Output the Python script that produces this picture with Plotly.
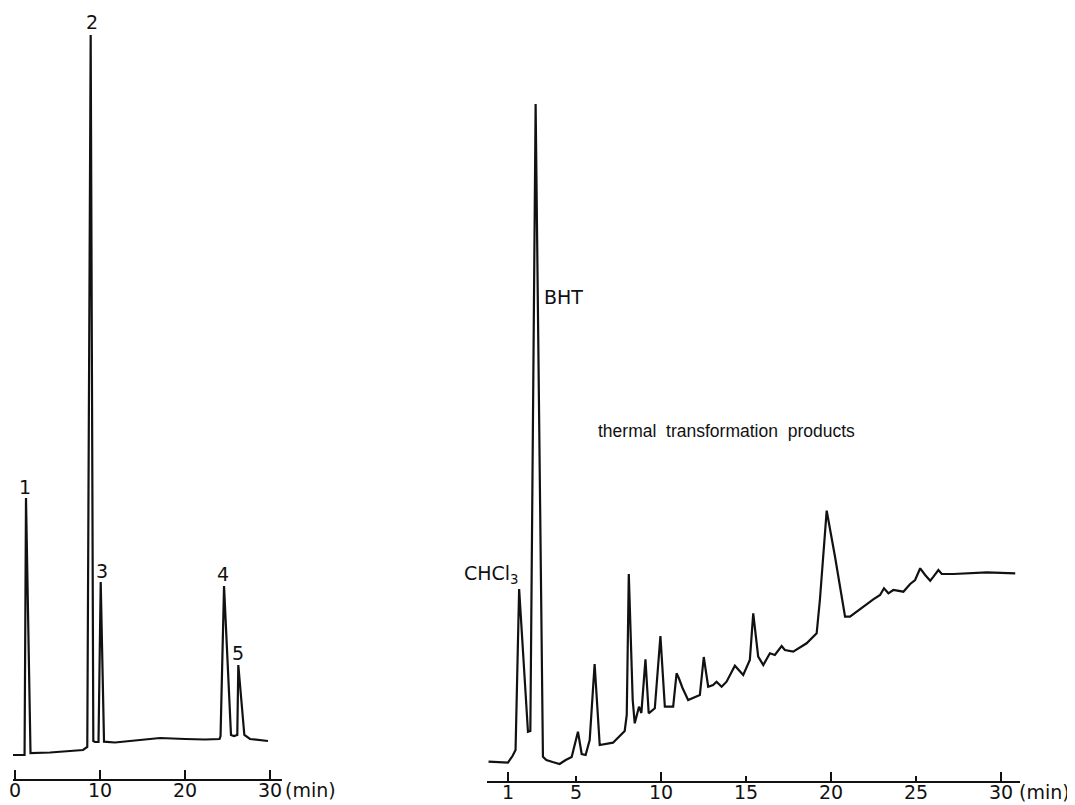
import plotly.graph_objects as go

# ---- Left chromatogram (standard mixture, peaks 1-5) ----
left_time = [-0.18, 1.18, 1.35, 1.88, 4.18, 8.06, 8.56, 8.96, 9.27, 9.47, 9.88, 10.14, 10.53,
             11.82, 14.76, 17.12, 20.06, 22.41, 24.12, 24.24, 24.65, 25.47, 25.82, 26.21,
             26.33, 27.04, 27.71, 29.82]
left_signal = [24, 24, 281, 26, 26.5, 29, 32, 744, 38, 37, 37, 197, 37.3,
               36.5, 39, 41, 40, 39.5, 40, 43, 193, 44, 43, 44,
               114, 44, 40, 38]
left_ticks = [0, 10, 20, 30]

# ---- Right chromatogram (sample with BHT) ----
right_time = [-0.16, 0.98, 1.25, 1.43, 1.64, 2.16, 2.30, 2.61, 3.04, 3.24, 3.61, 4.02, 4.38,
              4.73, 5.10, 5.32, 5.55, 5.79, 6.08, 6.38, 7.16, 7.56, 7.85, 7.97, 8.09,
              8.32, 8.44, 8.69, 8.83, 9.07, 9.26, 9.62, 9.95, 10.21, 10.70, 10.90, 11.03,
              11.25, 11.58, 12.27, 12.50, 12.76, 13.05, 13.25, 13.55, 13.84, 14.33, 14.82,
              15.21, 15.41, 15.70, 16.00, 16.39, 16.68, 17.08, 17.27, 17.76, 18.55, 19.14,
              19.33, 19.63, 19.73, 20.22, 20.41, 20.81, 21.10, 21.88, 22.47, 22.87, 23.10,
              23.36, 23.65, 24.24, 24.64, 24.93, 25.23, 25.52, 25.82, 26.01, 26.30, 26.50,
              27.19, 29.15, 30.82]
right_signal = [19.3, 18.3, 25, 31, 192, 49.3, 50, 677, 24.3, 21, 19, 17, 21,
                24, 49.3, 27, 26, 41, 117, 36, 38.3, 45, 50, 66, 207,
                81, 57.7, 74.3, 68, 121.7, 67.7, 72.7, 145, 74.3, 74.3, 107.7, 103,
                93, 81, 86, 124, 94.3, 96, 99.3, 94.3, 99.3, 115.3, 106,
                121, 167.7, 124.3, 116, 127.7, 126, 135, 131, 129.3, 137.7, 147.7,
                181, 251, 270.3, 224.3, 204.3, 164.3, 164.3, 174.3, 181.7, 186, 192.7,
                187.7, 191, 189.3, 197, 201, 212.7, 206, 200.3, 204.3, 211, 207,
                207, 208.7, 207.7]
right_ticks = [1, 5, 10, 15, 20, 25, 30]
right_long_ticks = [1, 10, 20, 30]

INK = "#111111"
FONT = "DejaVu Sans"
FS = 19

# the page body has an 8 px margin, so the figure is drawn 8 px in from the top-left
OFF = 8
W, H = 1075 - OFF, 805 - OFF


def fx(x):
    return (x - OFF) / W


def fy(y):
    return 1 - (y - OFF) / H


fig = go.Figure()
fig.add_trace(go.Scatter(x=left_time, y=left_signal, mode="lines",
                         line=dict(color=INK, width=2.2), xaxis="x", yaxis="y",
                         hoverinfo="skip", showlegend=False))
fig.add_trace(go.Scatter(x=right_time, y=right_signal, mode="lines",
                         line=dict(color=INK, width=2.2), xaxis="x2", yaxis="y2",
                         hoverinfo="skip", showlegend=False))
fig.add_trace(go.Scatter(x=[None], y=[None], mode="lines", xaxis="x3", yaxis="y2",
                         hoverinfo="skip", showlegend=False))

axis_common = dict(showline=True, linecolor=INK, linewidth=1.5, ticks="inside",
                   tickcolor=INK, tickwidth=1.5, showgrid=False, zeroline=False,
                   showticklabels=False, tickmode="array")

annotations = []


def label(text, x, y, xanchor="center", size=FS, family=FONT):
    annotations.append(dict(text=text, x=fx(x), y=fy(y), xref="paper", yref="paper",
                            xanchor=xanchor, yanchor="middle", showarrow=False,
                            font=dict(family=family, size=size, color=INK)))


def tick_label(text, xval, xref, y):
    annotations.append(dict(text=text, x=xval, y=fy(y), xref=xref, yref="paper",
                            xanchor="center", yanchor="middle", showarrow=False,
                            font=dict(family=FONT, size=FS, color=INK)))


for v in left_ticks:
    tick_label(str(v), v, "x", 790)
for v in right_ticks:
    tick_label(str(v), v, "x2", 792)

label("2", 92, 22)
label("1", 25, 487)
label("3", 102, 571)
label("4", 223, 574)
label("5", 238, 653)
label("(min)", 283, 790, xanchor="left")
label("CHCl<sub>3</sub>", 462, 574, xanchor="left")
label("BHT", 542, 297, xanchor="left")
label("thermal  transformation  products", 596, 431, xanchor="left", size=17.5,
      family="Liberation Sans")
label("(min)", 1017, 792, xanchor="left")

fig.update_layout(
    width=W, height=H,
    margin=dict(l=0, r=0, t=0, b=0, pad=0),
    paper_bgcolor="white", plot_bgcolor="white",
    xaxis=dict(domain=[fx(13), fx(282)], range=[-0.18, 31.47], anchor="y",
               tickvals=left_ticks, ticklen=9, **axis_common),
    yaxis=dict(domain=[fy(779), 1], range=[0, 779 - OFF], visible=False),
    xaxis2=dict(domain=[fx(487), fx(1020)], range=[-0.25, 31.1], anchor="y2",
                tickvals=right_ticks, ticklen=5, **axis_common),
    xaxis3=dict(domain=[fx(487), fx(1020)], range=[-0.25, 31.1], anchor="y2",
                overlaying="x2", tickvals=right_long_ticks, ticks="inside", ticklen=9,
                tickwidth=1.5, tickcolor=INK, showticklabels=False, showline=False,
                showgrid=False, zeroline=False),
    yaxis2=dict(domain=[fy(781), 1], range=[0, 781 - OFF], visible=False),
    annotations=annotations,
)

fig.write_html("out.html")
